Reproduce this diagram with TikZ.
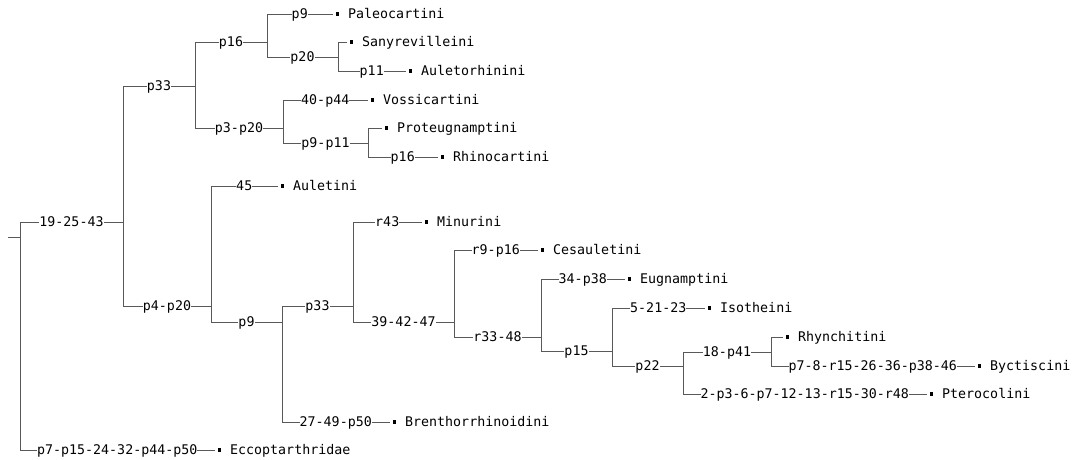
\documentclass[tikz,border=0pt]{standalone}
\usepackage{fontspec}
\usepackage{tikz}
\usetikzlibrary{positioning}
\newfontfamily\cladefont{DejaVu Sans Mono}

\begin{document}
\begin{tikzpicture}[
x=1pt, y=-1pt,
branch/.style={draw=black!65, line width=0.9pt},
lab/.style={fill=white, inner xsep=0pt, inner ysep=1pt, text height=9.7pt, text depth=0pt, font=\cladefont\fontsize{13.3}{16}\selectfont},
tip/.style={fill=black, rectangle, minimum width=3pt, minimum height=4pt, inner sep=0pt, outer xsep=3pt},
taxon/.style={right=6.5pt of #1, anchor=west, inner sep=0pt, text height=9.7pt, text depth=0pt, font=\cladefont\fontsize{13.3}{16}\selectfont}
]
\useasboundingbox (0,0) rectangle (1074,459);

\coordinate (stub) at (8,237);
\coordinate (n0) at (20,237);
\coordinate (n1) at (123,222);
\coordinate (n2) at (195,86);
\coordinate (n3) at (267,42);
\coordinate (n4) at (338,57);
\coordinate (n5) at (283,128);
\coordinate (n6) at (368,143);
\coordinate (n7) at (211,306);
\coordinate (n8) at (282,322);
\coordinate (n9) at (353,306);
\coordinate (n10) at (454,322);
\coordinate (n11) at (541,337);
\coordinate (n12) at (612,351);
\coordinate (n13) at (683,366);
\coordinate (n14) at (771,352);

\node[tip] (tPaleo) at (337,14) {};
\node[tip] (tSany) at (351,42) {};
\node[tip] (tAuletor) at (410,71) {};
\node[tip] (tVossi) at (372,100) {};
\node[tip] (tProteu) at (386,128) {};
\node[tip] (tRhino) at (442,157) {};
\node[tip] (tAuleti) at (282,186) {};
\node[tip] (tMinur) at (426,222) {};
\node[tip] (tCesau) at (542,250) {};
\node[tip] (tEugn) at (629,279) {};
\node[tip] (tIsoth) at (709,308) {};
\node[tip] (tRhyn) at (787,337) {};
\node[tip] (tByct) at (979,366) {};
\node[tip] (tPtero) at (931,394) {};
\node[tip] (tBrent) at (394,422) {};
\node[tip] (tEccop) at (219,450) {};

\node[taxon=tPaleo] (Paleo) {Paleocartini};
\node[taxon=tSany] (Sany) {Sanyrevilleini};
\node[taxon=tAuletor] (Auletor) {Auletorhinini};
\node[taxon=tVossi] (Vossi) {Vossicartini};
\node[taxon=tProteu] (Proteu) {Proteugnamptini};
\node[taxon=tRhino] (Rhino) {Rhinocartini};
\node[taxon=tAuleti] (Auleti) {Auletini};
\node[taxon=tMinur] (Minur) {Minurini};
\node[taxon=tCesau] (Cesau) {Cesauletini};
\node[taxon=tEugn] (Eugn) {Eugnamptini};
\node[taxon=tIsoth] (Isoth) {Isotheini};
\node[taxon=tRhyn] (Rhyn) {Rhynchitini};
\node[taxon=tByct] (Byct) {Byctiscini};
\node[taxon=tPtero] (Ptero) {Pterocolini};
\node[taxon=tBrent] (Brent) {Brenthorrhinoidini};
\node[taxon=tEccop] (Eccop) {Eccoptarthridae};

\draw[branch] (stub) -- (n0);
\draw[branch] (n0 |- n1) -- (n0 |- tEccop);
\draw[branch] (n1 |- n2) -- (n1 |- n7);
\draw[branch] (n2 |- n3) -- (n2 |- n5);
\draw[branch] (n3 |- tPaleo) -- (n3 |- n4);
\draw[branch] (n4 |- tSany) -- (n4 |- tAuletor);
\draw[branch] (n5 |- tVossi) -- (n5 |- n6);
\draw[branch] (n6 |- tProteu) -- (n6 |- tRhino);
\draw[branch] (n7 |- tAuleti) -- (n7 |- n8);
\draw[branch] (n8 |- n9) -- (n8 |- tBrent);
\draw[branch] (n9 |- tMinur) -- (n9 |- n10);
\draw[branch] (n10 |- tCesau) -- (n10 |- n11);
\draw[branch] (n11 |- tEugn) -- (n11 |- n12);
\draw[branch] (n12 |- tIsoth) -- (n12 |- n13);
\draw[branch] (n13 |- n14) -- (n13 |- tPtero);
\draw[branch] (n14 |- tRhyn) -- (n14 |- tByct);

\draw[branch] (n0 |- n1) -- node[lab]{19-25-43} (n1);
\draw[branch] (n0 |- tEccop) -- node[lab]{p7-p15-24-32-p44-p50} (tEccop);
\draw[branch] (n1 |- n2) -- node[lab]{p33} (n2);
\draw[branch] (n1 |- n7) -- node[lab]{p4-p20} (n7);
\draw[branch] (n2 |- n3) -- node[lab]{p16} (n3);
\draw[branch] (n2 |- n5) -- node[lab]{p3-p20} (n5);
\draw[branch] (n3 |- tPaleo) -- node[lab]{p9} (tPaleo);
\draw[branch] (n3 |- n4) -- node[lab]{p20} (n4);
\draw[branch] (n4 |- tSany) -- (tSany);
\draw[branch] (n4 |- tAuletor) -- node[lab]{p11} (tAuletor);
\draw[branch] (n5 |- tVossi) -- node[lab]{40-p44} (tVossi);
\draw[branch] (n5 |- n6) -- node[lab]{p9-p11} (n6);
\draw[branch] (n6 |- tProteu) -- (tProteu);
\draw[branch] (n6 |- tRhino) -- node[lab]{p16} (tRhino);
\draw[branch] (n7 |- tAuleti) -- node[lab]{45} (tAuleti);
\draw[branch] (n7 |- n8) -- node[lab]{p9} (n8);
\draw[branch] (n8 |- n9) -- node[lab]{p33} (n9);
\draw[branch] (n8 |- tBrent) -- node[lab]{27-49-p50} (tBrent);
\draw[branch] (n9 |- tMinur) -- node[lab]{r43} (tMinur);
\draw[branch] (n9 |- n10) -- node[lab]{39-42-47} (n10);
\draw[branch] (n10 |- tCesau) -- node[lab]{r9-p16} (tCesau);
\draw[branch] (n10 |- n11) -- node[lab]{r33-48} (n11);
\draw[branch] (n11 |- tEugn) -- node[lab]{34-p38} (tEugn);
\draw[branch] (n11 |- n12) -- node[lab]{p15} (n12);
\draw[branch] (n12 |- tIsoth) -- node[lab]{5-21-23} (tIsoth);
\draw[branch] (n12 |- n13) -- node[lab]{p22} (n13);
\draw[branch] (n13 |- n14) -- node[lab]{18-p41} (n14);
\draw[branch] (n13 |- tPtero) -- node[lab]{2-p3-6-p7-12-13-r15-30-r48} (tPtero);
\draw[branch] (n14 |- tRhyn) -- (tRhyn);
\draw[branch] (n14 |- tByct) -- node[lab]{p7-8-r15-26-36-p38-46} (tByct);

\end{tikzpicture}
\end{document}
